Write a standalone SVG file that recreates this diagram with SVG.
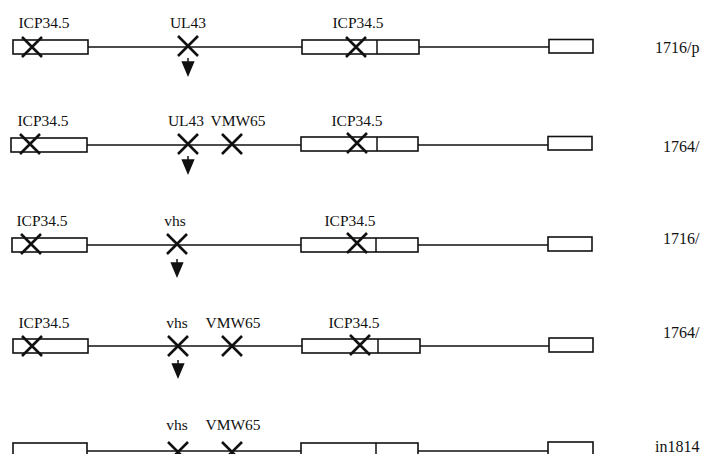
<svg xmlns="http://www.w3.org/2000/svg" width="705" height="454" viewBox="0 0 705 454">
<style>
.box{fill:#fff;stroke:#111;stroke-width:1.6}
.ln{stroke:#111;stroke-width:1.5;fill:none}
.x{stroke:#111;stroke-width:2.6;fill:none}
.lbl{font-family:"Liberation Serif","Times New Roman",serif;font-size:15.5px;fill:#111;text-anchor:middle}
.name{font-family:"Liberation Serif","Times New Roman",serif;font-size:16px;fill:#111}
.arr{fill:#111;stroke:#111;stroke-width:1.5}
</style>
<defs>
<path id="xm" d="M-10,-10 L10,10 M-10,10 L10,-10" class="x"/>
<g id="ar"><line x1="0" y1="-2" x2="0" y2="3" class="arr"/><path d="M-5.5,2 L5.5,2 L0,15 Z" class="arr"/></g>
</defs>
<g id="connectors">
<line class="ln" x1="88" y1="47" x2="302" y2="47"/>
<line class="ln" x1="419" y1="47" x2="549" y2="47"/>
<line class="ln" x1="87" y1="145" x2="301" y2="145"/>
<line class="ln" x1="418" y1="145" x2="548" y2="145"/>
<line class="ln" x1="87" y1="245" x2="301" y2="245"/>
<line class="ln" x1="418" y1="245" x2="548" y2="245"/>
<line class="ln" x1="88" y1="346" x2="302" y2="346"/>
<line class="ln" x1="420" y1="346" x2="549" y2="346"/>
<line class="ln" x1="87" y1="451" x2="301" y2="451"/>
<line class="ln" x1="418" y1="451" x2="548" y2="451"/>
</g>
<g id="row1">
<rect class="box" x="13" y="40" width="75" height="14"/>
<rect class="box" x="302" y="40" width="117" height="14"/>
<line class="ln" x1="377" y1="40" x2="377" y2="54"/>
<rect class="box" x="549" y="39.5" width="44" height="13.5"/>
<use href="#xm" x="32" y="47"/>
<use href="#xm" x="188" y="46"/>
<use href="#ar" x="188" y="60"/>
<use href="#xm" x="356" y="47"/>
<text class="lbl" x="44" y="28">ICP34.5</text>
<text class="lbl" x="188" y="28">UL43</text>
<text class="lbl" x="358" y="28">ICP34.5</text>
<text class="name" x="655" y="53">1716/p</text>
</g>
<g id="row2">
<rect class="box" x="11" y="138" width="76" height="14"/>
<rect class="box" x="301" y="137" width="117" height="14"/>
<line class="ln" x1="377" y1="137" x2="377" y2="151"/>
<rect class="box" x="548" y="136.5" width="44" height="13.5"/>
<use href="#xm" x="30" y="144"/>
<use href="#xm" x="188" y="144"/>
<use href="#xm" x="232" y="144"/>
<use href="#ar" x="188" y="158"/>
<use href="#xm" x="357" y="143"/>
<text class="lbl" x="43" y="126">ICP34.5</text>
<text class="lbl" x="186" y="126">UL43</text>
<text class="lbl" x="238" y="126">VMW65</text>
<text class="lbl" x="357" y="126">ICP34.5</text>
<text class="name" x="663" y="152">1764/</text>
</g>
<g id="row3">
<rect class="box" x="12" y="238" width="75" height="14"/>
<rect class="box" x="301" y="238" width="117" height="14"/>
<line class="ln" x1="376" y1="238" x2="376" y2="252"/>
<rect class="box" x="548" y="237" width="44" height="14"/>
<use href="#xm" x="31" y="244"/>
<use href="#xm" x="177" y="244"/>
<use href="#ar" x="177" y="261"/>
<use href="#xm" x="357" y="243"/>
<text class="lbl" x="42" y="226">ICP34.5</text>
<text class="lbl" x="175" y="226">vhs</text>
<text class="lbl" x="350" y="226">ICP34.5</text>
<text class="name" x="663" y="244">1716/</text>
</g>
<g id="row4">
<rect class="box" x="13" y="339" width="75" height="14"/>
<rect class="box" x="302" y="339" width="118" height="14"/>
<line class="ln" x1="378" y1="339" x2="378" y2="353"/>
<rect class="box" x="549" y="338" width="44" height="14"/>
<use href="#xm" x="32" y="346"/>
<use href="#xm" x="178" y="346"/>
<use href="#xm" x="232" y="346"/>
<use href="#ar" x="178" y="362"/>
<use href="#xm" x="360" y="345"/>
<text class="lbl" x="44" y="328">ICP34.5</text>
<text class="lbl" x="177" y="328">vhs</text>
<text class="lbl" x="233" y="328">VMW65</text>
<text class="lbl" x="354" y="328">ICP34.5</text>
<text class="name" x="663" y="338">1764/</text>
</g>
<g id="row5">
<rect class="box" x="13" y="443" width="74" height="20"/>
<rect class="box" x="301" y="443" width="117" height="20"/>
<line class="ln" x1="376" y1="443" x2="376" y2="463"/>
<rect class="box" x="548" y="442" width="45" height="20"/>
<use href="#xm" x="178" y="452"/>
<use href="#xm" x="232" y="452"/>
<text class="lbl" x="177" y="430">vhs</text>
<text class="lbl" x="233" y="430">VMW65</text>
<text class="name" x="655" y="452">in1814</text>
</g>
</svg>
